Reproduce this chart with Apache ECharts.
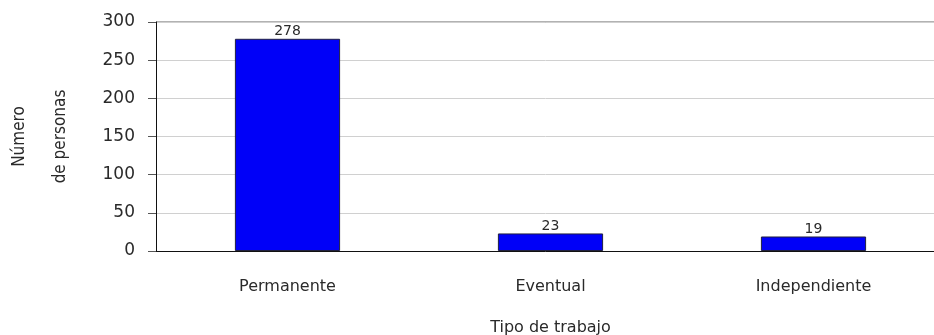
<!DOCTYPE html>
<html>
<head>
<meta charset="utf-8">
<script src="https://cdn.jsdelivr.net/npm/echarts@6/dist/echarts.min.js"></script>
<style>
  html, body { margin: 0; padding: 0; background: #fff; }
  #chart { width: 934px; height: 335px; }
</style>
</head>
<body>
<div id="chart"></div>
<script>
// Tipos de trabajo y número de personas en cada uno
const categories = ['Permanente', 'Eventual', 'Independiente'];
const personas = [278, 23, 19];
const yTicks = [0, 50, 100, 150, 200, 250, 300];

const chart = echarts.init(document.getElementById('chart'));
const font = '"DejaVu Sans", sans-serif';

chart.setOption({
  animation: false,
  // the last category runs past the right edge of the canvas
  grid: { left: 156, top: 22, width: 789, height: 229, outerBoundsMode: 'none', containLabel: false },
  xAxis: {
    type: 'category',
    data: categories,
    name: 'Tipo de trabajo',
    nameLocation: 'middle',
    nameGap: 69,
    nameTextStyle: { fontFamily: font, fontSize: 16, color: '#2a2a2a' },
    axisLine: { lineStyle: { color: '#111', width: 1 } },
    axisTick: { length: 8, lineStyle: { color: '#555' } },
    axisLabel: { fontFamily: font, fontSize: 16, color: '#2a2a2a', margin: 28 }
  },
  yAxis: {
    type: 'value',
    min: yTicks[0],
    max: yTicks[yTicks.length - 1],
    interval: 50,
    name: 'Número\nde personas',
    nameLocation: 'middle',
    nameGap: 75,
    nameRotate: 90,
    nameTextStyle: { fontFamily: '"DejaVu Sans Condensed", "Liberation Sans Narrow", sans-serif', fontSize: 17, color: '#2a2a2a', lineHeight: 41 },
    axisLine: { show: true, lineStyle: { color: '#111', width: 1 } },
    axisTick: { show: true, inside: false, length: 8, lineStyle: { color: '#555' } },
    axisLabel: { fontFamily: font, fontSize: 17, color: '#2a2a2a', margin: 21 },
    splitLine: { lineStyle: { color: '#d0d0d0' } }
  },
  series: [{
    type: 'bar',
    data: personas,
    barWidth: '40%',
    itemStyle: { color: '#0000f8', borderColor: '#202040', borderWidth: 1 },
    label: {
      show: true,
      position: 'top',
      distance: 0,
      fontFamily: font,
      fontSize: 14,
      color: '#2a2a2a'
    }
  }],
  graphic: [{
    type: 'line',
    shape: { x1: 156, y1: 22, x2: 934, y2: 22 },
    style: { stroke: '#999', lineWidth: 1.5 }
  }]
});
</script>
</body>
</html>
